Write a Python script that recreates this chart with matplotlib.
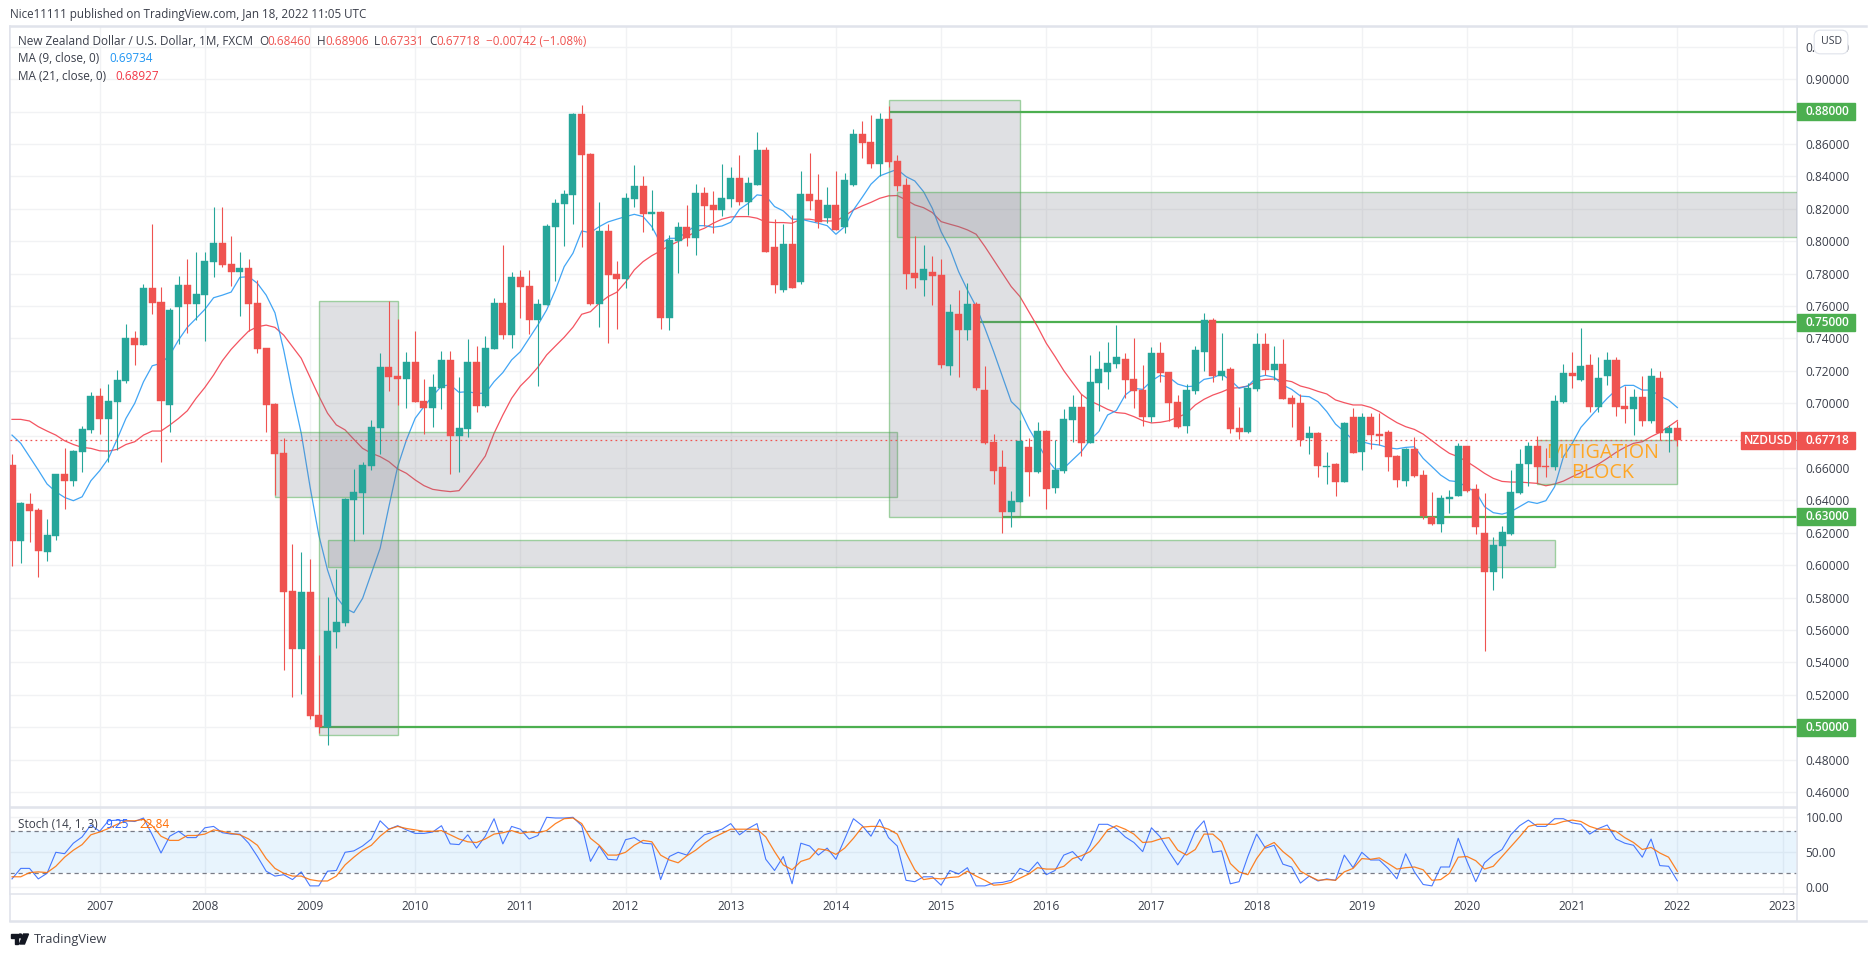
import matplotlib
matplotlib.use("Agg")
import matplotlib.pyplot as plt
from matplotlib.patches import Rectangle, Polygon, Circle
from matplotlib.transforms import blended_transform_factory

plt.rcParams['font.family'] = ['Open Sans', 'DejaVu Sans']

opens = [
 .6618,.6151,.6377,.6340,.6083,.6182,.6562,.6519,.6701,.6834,
 .7044,.6902,.7007,.7137,.7402,.7359,.7711,.7625,.6989,.7594,
 .7730,.7612,.7668,.7871,.7989,.7859,.7810,.7835,.7619,.7340,
 .6995,.6692,.5841,.5482,.5834,.5075,.4999,.5587,.5643,.6403,
 .6446,.6612,.6847,.7224,.7168,.7150,.7254,.7014,.6970,.7094,
 .7267,.6798,.6841,.7254,.6983,.7335,.7619,.7423,.7779,.7723,
 .7514,.7606,.8088,.8230,.8285,.8785,.8539,.7613,.8063,.7798,
 .7767,.8261,.8341,.8168,.8181,.7526,.8002,.8088,.8020,.8298,
 .8224,.8193,.8261,.8391,.8243,.8348,.8564,.7965,.7699,.7983,
 .7749,.8292,.8255,.8144,.8224,.8088,.8348,.8662,.8613,.8477,
 .8755,.8496,.8347,.7804,.7761,.7810,.7792,.7230,.7551,.7452,
 .7613,.7082,.6761,.6606,.6329,.6390,.6730,.6576,.6829,.6477,
 .6582,.6897,.6977,.6755,.7125,.7193,.7242,.7273,.7149,.7081,
 .6915,.7310,.7192,.7007,.6859,.7075,.7316,.7514,.7168,.7211,
 .6847,.6822,.7088,.7365,.7205,.7242,.7032,.7001,.6785,.6816,
 .6608,.6624,.6513,.6915,.6699,.6915,.6810,.6822,.6674,.6519,
 .6717,.6556,.6297,.6254,.6408,.6427,.6735,.6470,.6198,.5957,
 .6118,.6192,.6445,.6624,.6735,.6612,.6606,.7007,.7186,.7143,
 .7235,.6976,.7167,.7266,.6982,.6964,.7038,.6890,.7155,.6816,
 .6846]
highs = [
 .6686,.6389,.6445,.6352,.6285,.6562,.6723,.6711,.6859,.7069,
 .7094,.7118,.7205,.7489,.7446,.7736,.8106,.7717,.7588,.7785,
 .7890,.7933,.7933,.8211,.8211,.8032,.7933,.7890,.7761,.7340,
 .7001,.6785,.6131,.6081,.6038,.5445,.5804,.5976,.6415,.6594,
 .6637,.6896,.7310,.7629,.7520,.7316,.7446,.7150,.7180,.7322,
 .7322,.7162,.7396,.7353,.7415,.7650,.7976,.7810,.7822,.7822,
 .7641,.8106,.8260,.8316,.8789,.8841,.8545,.8243,.8107,.7878,
 .8298,.8471,.8403,.8317,.8187,.8039,.8119,.8224,.8354,.8335,
 .8310,.8477,.8459,.8533,.8397,.8675,.8582,.8138,.8107,.8162,
 .8434,.8545,.8415,.8335,.8434,.8422,.8693,.8743,.8780,.8792,
 .8835,.8533,.8391,.8033,.7977,.7909,.7891,.7613,.7699,.7742,
 .7625,.7230,.6810,.6711,.6458,.6897,.6785,.6884,.6835,.6773,
 .6965,.7051,.7057,.7298,.7323,.7378,.7483,.7310,.7402,.7236,
 .7347,.7378,.7192,.7050,.7118,.7353,.7557,.7526,.7433,.7223,
 .6976,.7125,.7433,.7433,.7353,.7396,.7050,.7057,.6859,.6822,
 .6699,.6631,.6884,.6970,.6939,.6939,.6939,.6834,.6680,.6723,
 .6791,.6587,.6451,.6433,.6464,.6754,.6735,.6501,.6445,.6173,
 .6241,.6587,.6717,.6760,.6797,.6723,.7050,.7242,.7316,.7464,
 .7303,.7285,.7316,.7285,.7106,.7087,.7167,.7217,.7198,.6865,
 .6891]
lows = [
 .5994,.6015,.6145,.5928,.6027,.6157,.6346,.6489,.6575,.6816,
 .6810,.6637,.6711,.7125,.7236,.7359,.7551,.6637,.6822,.7365,
 .7433,.7514,.7384,.7779,.7841,.7723,.7538,.7446,.7310,.6822,
 .6433,.5353,.5186,.5205,.5050,.4964,.4890,.5489,.5624,.6149,
 .6192,.6588,.6686,.7075,.6989,.6970,.7007,.6810,.6853,.6964,
 .6563,.6575,.6791,.6946,.6977,.7335,.7396,.7343,.7526,.7427,
 .7106,.7606,.7756,.7970,.8106,.7964,.7607,.7471,.7372,.7458,
 .7712,.8212,.8057,.8070,.7458,.7452,.7804,.7971,.7915,.8094,
 .8051,.8156,.8212,.8224,.8162,.8348,.7934,.7681,.7687,.7712,
 .7736,.8193,.8082,.8113,.8070,.8051,.8341,.8514,.8452,.8403,
 .8459,.8310,.7705,.7712,.7662,.7607,.7218,.7174,.7162,.7391,
 .7082,.6748,.6501,.6199,.6236,.6390,.6427,.6569,.6347,.6446,
 .6569,.6761,.6674,.6755,.6952,.7088,.7218,.7032,.6970,.6859,
 .6884,.7131,.6890,.6847,.6816,.7057,.7199,.7131,.7143,.6816,
 .6779,.6816,.7075,.7174,.7143,.7026,.6853,.6736,.6686,.6544,
 .6501,.6427,.6513,.6692,.6587,.6717,.6742,.6581,.6482,.6488,
 .6544,.6285,.6248,.6204,.6322,.6427,.6451,.6192,.5470,.5846,
 .5920,.6186,.6439,.6488,.6507,.6544,.6587,.7001,.7093,.7137,
 .6945,.6945,.7112,.6921,.6877,.6803,.6859,.6877,.6772,.6698,
 .6733]
closes = [
 .6151,.6383,.6334,.6089,.6186,.6562,.6519,.6705,.6841,.7044,
 .6902,.7013,.7143,.7402,.7359,.7711,.7619,.7014,.7575,.7730,
 .7612,.7674,.7878,.7989,.7853,.7810,.7835,.7612,.7334,.6989,
 .6686,.5835,.5482,.5834,.5069,.4999,.5594,.5649,.6409,.6452,
 .6619,.6853,.7224,.7162,.7150,.7254,.7007,.6970,.7100,.7267,
 .6798,.6847,.7254,.6983,.7341,.7619,.7421,.7779,.7717,.7514,
 .7612,.8094,.8236,.8291,.8785,.8533,.7613,.8063,.7792,.7767,
 .8267,.8341,.8168,.8181,.7526,.8008,.8088,.8020,.8298,.8218,
 .8193,.8267,.8391,.8243,.8360,.8564,.7934,.7730,.7983,.7712,
 .8292,.8249,.8119,.8224,.8070,.8378,.8662,.8607,.8477,.8755,
 .8489,.8341,.7798,.7773,.7829,.7786,.7236,.7563,.7452,.7613,
 .7094,.6755,.6582,.6329,.6396,.6767,.6576,.6829,.6471,.6588,
 .6903,.6977,.6755,.7131,.7211,.7248,.7286,.7143,.7075,.6915,
 .7310,.7186,.7001,.6853,.7081,.7328,.7514,.7168,.7199,.6841,
 .6822,.7094,.7365,.7205,.7242,.7026,.6995,.6773,.6816,.6612,
 .6612,.6513,.6878,.6692,.6915,.6804,.6797,.6668,.6526,.6717,
 .6550,.6303,.6254,.6414,.6420,.6735,.6457,.6235,.5957,.6124,
 .6204,.6451,.6624,.6735,.6606,.6606,.7013,.7186,.7167,.7229,
 .6976,.7155,.7266,.6976,.6964,.7038,.6890,.7167,.6816,.6846,
 .6772]
ma9 = [
 .6803,.6752,.6669,.6587,.6501,.6453,.6418,.6398,.6422,.6521,
 .6583,.6659,.6778,.6906,.6999,.7132,.7231,.7246,.7297,.7390,
 .7468,.7523,.7579,.7651,.7667,.7686,.7777,.7781,.7740,.7667,
 .7558,.7328,.7061,.6814,.6485,.6186,.5970,.5806,.5734,.5707,
 .5795,.5950,.6104,.6361,.6608,.6773,.6907,.6979,.7045,.7106,
 .7113,.7067,.7071,.7061,.7061,.7133,.7189,.7267,.7318,.7401,
 .7483,.7576,.7699,.7843,.7926,.8063,.8053,.8090,.8119,.8136,
 .8152,.8166,.8152,.8090,.7987,.8018,.8018,.8059,.8096,.8096,
 .8086,.8094,.8117,.8197,.8234,.8286,.8280,.8214,.8187,.8136,
 .8136,.8123,.8111,.8096,.8043,.8090,.8193,.8271,.8352,.8403,
 .8424,.8444,.8399,.8372,.8306,.8203,.8059,.7956,.7812,.7699,
 .7596,.7463,.7318,.7164,.7010,.6958,.6845,.6752,.6660,.6592,
 .6598,.6650,.6701,.6773,.6825,.6927,.6955,.7050,.7092,.7085,
 .7137,.7172,.7160,.7118,.7102,.7106,.7147,.7157,.7180,.7143,
 .7092,.7106,.7160,.7172,.7160,.7112,.7085,.7044,.7040,.7009,
 .6948,.6871,.6824,.6773,.6762,.6748,.6742,.6725,.6718,.6727,
 .6731,.6659,.6608,.6556,.6521,.6515,.6480,.6453,.6361,.6324,
 .6315,.6330,.6361,.6392,.6381,.6398,.6484,.6669,.6752,.6851,
 .6912,.6972,.7030,.7081,.7110,.7110,.7081,.7081,.7044,.7019,
 .6973]
ma21 = [
 .6900,.6900,.6890,.6855,.6828,.6803,.6768,.6745,.6727,.6721,
 .6706,.6704,.6715,.6745,.6762,.6803,.6828,.6828,.6865,.6906,
 .6953,.7030,.7097,.7174,.7262,.7332,.7390,.7445,.7472,.7482,
 .7468,.7420,.7349,.7277,.7160,.7045,.6938,.6866,.6835,.6777,
 .6721,.6691,.6670,.6639,.6594,.6567,.6526,.6491,.6468,.6460,
 .6454,.6460,.6526,.6598,.6674,.6814,.6927,.7030,.7106,.7160,
 .7222,.7298,.7353,.7407,.7469,.7549,.7565,.7617,.7658,.7685,
 .7747,.7823,.7874,.7911,.7940,.7973,.7998,.8028,.8059,.8080,
 .8111,.8136,.8150,.8152,.8152,.8142,.8119,.8115,.8115,.8111,
 .8136,.8136,.8127,.8125,.8125,.8156,.8193,.8218,.8240,.8265,
 .8280,.8282,.8255,.8224,.8207,.8177,.8121,.8105,.8090,.8070,
 .8043,.7967,.7884,.7802,.7720,.7658,.7565,.7473,.7370,.7288,
 .7201,.7127,.7055,.7014,.6989,.6962,.6942,.6937,.6917,.6892,
 .6878,.6882,.6892,.6913,.6937,.6989,.7024,.7050,.7069,.7092,
 .7096,.7106,.7137,.7147,.7149,.7143,.7133,.7106,.7092,.7073,
 .7057,.7020,.7003,.6989,.6989,.6974,.6948,.6913,.6880,.6855,
 .6838,.6809,.6768,.6727,.6690,.6669,.6639,.6604,.6567,.6536,
 .6517,.6513,.6513,.6509,.6505,.6490,.6501,.6519,.6546,.6571,
 .6597,.6624,.6659,.6696,.6727,.6752,.6762,.6793,.6820,.6855,
 .6893]
stoch_k = [
 12,27,27,12,20,50,48,63,72,89,
 80,95,96,95,94,99,75,49,73,80,
 71,71,85,87,78,76,76,63,44,23,
 16,18,11,22,2,2,23,24,50,52,
 59,69,95,83,88,82,77,77,79,88,
 62,61,75,56,73,98,62,87,83,69,
 74,100,99,99,100,88,37,59,40,39,
 68,71,63,62,11,44,50,46,64,75,
 79,83,91,75,84,91,40,24,44,5,
 63,59,46,56,40,69,98,88,73,97,
 71,59,10,8,15,15,3,24,19,28,
 2,2,6,7,10,27,22,36,18,24,
 46,51,38,60,90,90,84,72,64,51,
 85,72,51,32,51,81,95,50,52,5,
 8,44,76,56,60,33,29,6,16,9,
 12,10,46,28,50,39,39,27,12,48,
 22,4,2,29,29,70,37,8,35,46,
 54,75,88,96,87,87,98,98,92,90,
 76,84,89,69,63,60,43,69,31,30,
 9.25]
stoch_d = [
 15,15,21,22,21,30,43,53,61,75,
 79,84,90,95,95,97,88,73,67,67,
 74,74,76,82,80,77,75,69,60,41,
 27,20,16,16,11,9,9,16,32,43,
 53,60,73,83,87,84,82,80,80,81,
 75,69,65,64,69,76,78,81,77,79,
 78,81,91,98,99,91,70,60,46,46,
 50,60,67,65,46,39,35,45,53,63,
 71,77,83,83,83,83,72,51,32,25,
 37,41,55,53,47,56,70,86,87,87,
 83,76,49,25,11,13,12,14,15,23,
 16,10,3,4,7,13,19,28,26,26,
 30,41,45,51,65,82,88,83,76,64,
 65,69,71,53,46,54,76,76,65,34,
 22,18,41,58,64,51,41,23,16,10,
 11,10,22,27,41,40,42,34,26,28,
 29,25,10,11,20,43,44,38,26,30,
 44,58,72,87,90,90,90,94,96,94,
 87,83,83,80,71,64,54,57,49,43,
 22.84]
year_labels = ['2007','2008','2009','2010','2011','2012','2013','2014','2015',
               '2016','2017','2018','2019','2020','2021','2022','2023']
year_bars = [10,22,34,46,58,70,82,94,106,118,130,142,154,166,178,190,202]
price_ticks = [0.46,0.48,0.50,0.52,0.54,0.56,0.58,0.60,0.62,0.64,0.66,0.68,0.70,
               0.72,0.74,0.76,0.78,0.80,0.82,0.84,0.86,0.88,0.90,0.92]
level_prices = [0.88,0.75,0.63,0.50]
level_starts = [100,110,113,35]
zone_left = [35,30,100,101,36,174]
zone_right = [44,101,115,204,176,190]
zone_top = [0.7629,0.6820,0.8870,0.8302,0.6155,0.6773]
zone_bottom = [0.4950,0.6419,0.6299,0.8024,0.5987,0.6499]
last_close = 0.67718

GREEN, RED = '#26a69a', '#ef5350'
W, H = 1870, 957
LEFT, RIGHT = 9.5, 1796.5
TXT = '#3a3e4a'
GRID = '#f1f2f4'
BORDER = '#e0e3eb'

fig = plt.figure(figsize=(W/100, H/100), dpi=100, facecolor='white')

def box(l, t, r, b):
    return [l/W, 1-b/H, (r-l)/W, (b-t)/H]

ax = fig.add_axes(box(LEFT, 27, RIGHT, 807))
sx = fig.add_axes(box(LEFT, 808, RIGHT, 894), sharex=ax)
ov = fig.add_axes([0, 0, 1, 1], zorder=-5)
ov.set_xlim(0, W); ov.set_ylim(H, 0); ov.axis('off')

xmin, xmax = (LEFT-12)/8.765, (RIGHT-12)/8.765
ax.set_xlim(xmin, xmax)
ax.set_ylim(0.76-501/1619.7, 0.76+279/1619.7)
sx.set_ylim(-9.6, 113.3)

for a in (ax, sx):
    a.set_axisbelow(True)
    a.grid(True, color=GRID, lw=1.0)
    for s in a.spines.values():
        s.set_color(BORDER); s.set_linewidth(1.1)
    a.set_xticks(year_bars)
    a.yaxis.tick_right()
    a.tick_params(length=0, labelsize=8.6, labelcolor=TXT)

ax.tick_params(axis='x', labelbottom=False)
ax.set_yticks(price_ticks)
ax.set_yticklabels([f'{p:.5f}' for p in price_ticks])
ax.tick_params(axis='y', pad=6.5)
sx.set_yticks([0,50,100])
sx.set_yticklabels(['0.00','50.00','100.00'])
sx.tick_params(axis='y', pad=6.5)
sx.set_xticklabels(year_labels)
sx.tick_params(axis='x', pad=4.6)

idx = list(range(len(closes)))
for p, s in zip(level_prices, level_starts):
    ax.plot([s, xmax], [p, p], color='#4caf50', lw=1.6, zorder=2, solid_capstyle='butt')
ax.plot(idx, ma21, color='#f23645', lw=0.9, alpha=0.85, zorder=3)
ax.plot(idx, ma9, color='#2196f3', lw=0.9, alpha=0.85, zorder=3)
for l, r, t, b in zip(zone_left, zone_right, zone_top, zone_bottom):
    ax.add_patch(Rectangle((l, b), r-l, t-b, facecolor=(120/255,123/255,134/255,0.23),
                           edgecolor=(76/255,175/255,80/255,0.5), lw=1.0, zorder=4))
ax.axhline(last_close, color='#ef5350', lw=0.9, ls=(0, (1.4, 2.6)), zorder=5)
ax.text(181.5, 0.6631, 'MITIGATION\nBLOCK', color='#ffa726', fontsize=14.2, ha='center', va='center',
        linespacing=1.0, zorder=5)
cols = [GREEN if c >= o else RED for o, c in zip(opens, closes)]
ax.vlines(idx, lows, highs, colors=cols, lw=0.8, zorder=6)
ax.bar(idx, [abs(c-o) for o, c in zip(opens, closes)], bottom=[min(o, c) for o, c in zip(opens, closes)],
       width=0.8, color=cols, edgecolor=cols, linewidth=0.3, zorder=7)

tf = blended_transform_factory(ax.transAxes, ax.transData)
tag_w = 58/(RIGHT-LEFT)
tag_h = 17/1619.7
for p in level_prices:
    ax.add_patch(Rectangle((1, p-tag_h/2), tag_w, tag_h, transform=tf, color='#4caf50', clip_on=False, zorder=8))
    ax.text(1+9/(RIGHT-LEFT), p, f'{p:.5f}', transform=tf, color='white', fontsize=8.6, fontweight='semibold',
            va='center', ha='left', clip_on=False, zorder=9)
ax.add_patch(Rectangle((1, last_close-tag_h/2), tag_w, tag_h, transform=tf, color='#ef5350', clip_on=False, zorder=8))
ax.text(1+9/(RIGHT-LEFT), last_close, f'{last_close:.5f}', transform=tf, color='white', fontsize=8.6,
        fontweight='semibold', va='center', ha='left', clip_on=False, zorder=9)
ax.add_patch(Rectangle((1-55.5/(RIGHT-LEFT), last_close-tag_h/2), 53.5/(RIGHT-LEFT), tag_h, transform=tf,
                       color='#ef5350', clip_on=False, zorder=8))
ax.text(1-28.5/(RIGHT-LEFT), last_close, 'NZDUSD', transform=tf, color='white', fontsize=8.6, fontweight='semibold',
        va='center', ha='center', clip_on=False, zorder=9)
ax.text(1+34.5/(RIGHT-LEFT), 1-(42-27)/780, 'USD', transform=ax.transAxes, fontsize=7.6, color=TXT,
        va='center', ha='center', clip_on=False, zorder=9,
        bbox=dict(boxstyle='round,pad=0.6', fc='white', ec=BORDER, lw=0.8))

sx.axhspan(20, 80, color='#2196f3', alpha=0.1, lw=0, zorder=1)
sx.axhline(80, color='#787b86', lw=0.9, ls=(0, (3.4, 3.0)), zorder=2)
sx.axhline(20, color='#787b86', lw=0.9, ls=(0, (3.4, 3.0)), zorder=2)
sx.plot(idx, stoch_k, color='#2962ff', lw=0.8, alpha=0.85, zorder=3)
sx.plot(idx, stoch_d, color='#ff6d00', lw=0.9, alpha=0.85, zorder=4)

ov.plot([LEFT, LEFT], [26, 921], color=BORDER, lw=1.2)
ov.plot([RIGHT, RIGHT], [26, 921], color=BORDER, lw=1.1)
ov.plot([LEFT, 1866], [26, 26], color=BORDER, lw=1.8)
ov.plot([LEFT, 1866], [921, 921], color=BORDER, lw=1.8)

fig.text(10/W, 1-14.5/H, 'Nice11111 published on TradingView.com, Jan 18, 2022 11:05 UTC',
         fontsize=8.4, color=TXT, va='center')
def lt(x, y, s, c=TXT, fs=8.5):
    fig.text(x/W, 1-y/H, s, fontsize=fs, color=c, va='center', zorder=20)
lt(18, 41.5, 'New Zealand Dollar / U.S. Dollar, 1M, FXCM')
for x, s in [(259.5, 'O'), (316.5, 'H'), (374, 'L'), (429, 'C')]:
    lt(x, 41.5, s)
for x, s in [(267.5, '0.68460'), (325, '0.68906'), (380, '0.67331'), (436, '0.67718'),
             (486, '\u22120.00742 (\u22121.08%)')]:
    lt(x, 41.5, s, '#ef5350')
lt(18, 59, 'MA (9, close, 0)'); lt(109, 59, '0.69734', '#2196f3')
lt(18, 76, 'MA (21, close, 0)'); lt(115.5, 76, '0.68927', '#f23645')
lt(18, 824, 'Stoch (14, 1, 3)'); lt(105.5, 824, '9.25', '#2962ff'); lt(139, 824, '22.84', '#ff6d00')

ov.add_patch(Polygon([(11, 934), (18, 934), (18, 944), (14.5, 944), (14.5, 937.5), (11, 937.5)], color='#131722'))
ov.add_patch(Circle((20.3, 935.9), 1.9, color='#131722'))
ov.add_patch(Polygon([(23.5, 934), (28.5, 934), (24.5, 944), (19.5, 944)], color='#131722'))
fig.text(33.5/W, 1-939/H, 'TradingView', fontsize=9.2, color=TXT, va='center')

fig.savefig('out.png', dpi=100)
